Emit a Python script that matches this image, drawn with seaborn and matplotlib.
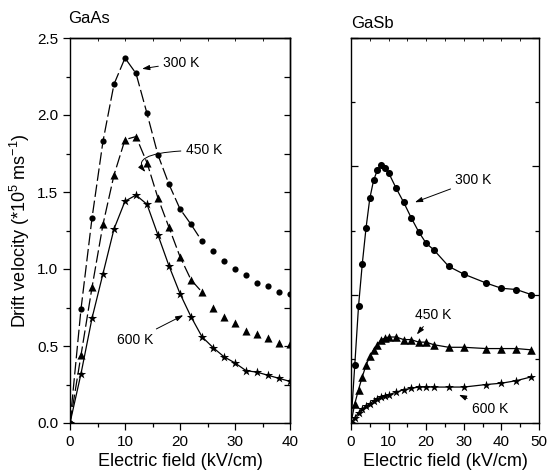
import matplotlib
matplotlib.use("Agg")
import matplotlib.pyplot as plt
from matplotlib.ticker import MultipleLocator, NullFormatter, FormatStrFormatter
import seaborn as sns

# GaAs data (field in kV/cm, velocity in 1e5 m/s)
gaas_field = [0, 2, 4, 6, 8, 10, 12, 14, 16, 18, 20, 22, 24, 26, 28, 30, 32, 34, 36, 38, 40]
gaas_300 = [0, 0.74, 1.33, 1.83, 2.20, 2.37, 2.27, 2.01, 1.74, 1.55, 1.39, 1.29, 1.18, 1.12, 1.05, 1.00, 0.96, 0.91, 0.89, 0.85, 0.84]
gaas_450 = [0, 0.44, 0.88, 1.29, 1.61, 1.84, 1.86, 1.69, 1.46, 1.27, 1.08, 0.93, 0.85, 0.75, 0.69, 0.65, 0.60, 0.58, 0.55, 0.52, 0.51]
gaas_600 = [0, 0.32, 0.68, 0.97, 1.26, 1.44, 1.48, 1.42, 1.22, 1.02, 0.84, 0.69, 0.56, 0.49, 0.43, 0.39, 0.34, 0.33, 0.31, 0.29, 0.27]
gaas_dash_end = 13  # dashed fits stop at 24 kV/cm

# GaSb data (right panel, own unlabeled scale)
gasb_field = [0, 1, 2, 3, 4, 5, 6, 7, 8, 9, 10, 12, 14, 16, 18, 20, 22, 26, 30, 36, 40, 44, 48]
gasb_300 = [0, 0.45, 0.91, 1.24, 1.52, 1.75, 1.89, 1.97, 2.01, 1.99, 1.95, 1.83, 1.72, 1.60, 1.49, 1.40, 1.35, 1.22, 1.16, 1.09, 1.05, 1.04, 1.00]
gasb_450 = [0, 0.15, 0.26, 0.36, 0.45, 0.52, 0.57, 0.61, 0.65, 0.66, 0.67, 0.67, 0.65, 0.65, 0.63, 0.63, 0.61, 0.59, 0.59, 0.58, 0.58, 0.58, 0.57]
gasb_600 = [0, 0.04, 0.08, 0.11, 0.13, 0.15, 0.17, 0.19, 0.20, 0.21, 0.22, 0.24, 0.26, 0.27, 0.28, 0.28, 0.28, 0.28, 0.28, 0.30, 0.31, 0.33, 0.36]

sns.set_style("ticks", rc={'axes.edgecolor': 'black', 'text.color': 'black',
                           'axes.labelcolor': 'black', 'xtick.color': 'black',
                           'ytick.color': 'black'})
plt.rcParams['font.family'] = ['Liberation Sans', 'DejaVu Sans']
plt.rcParams['mathtext.fontset'] = 'custom'
plt.rcParams['mathtext.rm'] = 'Liberation Sans'
plt.rcParams['mathtext.it'] = 'Liberation Sans:italic'
plt.rcParams['axes.linewidth'] = 1.0

fig = plt.figure(figsize=(5.47, 4.75), dpi=100)
ax1 = fig.add_axes([70 / 547, 52 / 475, 220 / 547, 385 / 475])
ax2 = fig.add_axes([351 / 547, 52 / 475, 188 / 547, 385 / 475])

arrow = dict(arrowstyle='-|>,head_length=0.45,head_width=0.15', color='k', lw=0.7,
             shrinkA=1, shrinkB=0)

# ---- GaAs panel ----
sns.lineplot(x=gaas_field[:gaas_dash_end], y=gaas_300[:gaas_dash_end], ax=ax1, color='k',
             lw=0.9, linestyle=(0, (10, 3)))
sns.lineplot(x=gaas_field[:gaas_dash_end], y=gaas_450[:gaas_dash_end], ax=ax1, color='k',
             lw=0.9, linestyle=(0, (10, 3)))
sns.lineplot(x=gaas_field, y=gaas_600, ax=ax1, color='k', lw=0.9)
sns.scatterplot(x=gaas_field, y=gaas_300, ax=ax1, color='k', marker='o', s=20, linewidth=0)
sns.scatterplot(x=gaas_field, y=gaas_450, ax=ax1, color='k', marker='^', s=34, linewidth=0)
sns.scatterplot(x=gaas_field, y=gaas_600, ax=ax1, color='k', marker='*', s=50, linewidth=0)

ax1.set_xlim(0, 40)
ax1.set_ylim(0, 2.5)
ax1.xaxis.set_major_locator(MultipleLocator(10))
ax1.xaxis.set_minor_locator(MultipleLocator(5))
ax1.yaxis.set_major_locator(MultipleLocator(0.5))
ax1.yaxis.set_minor_locator(MultipleLocator(0.25))
ax1.yaxis.set_major_formatter(FormatStrFormatter('%.1f'))
ax1.tick_params(which='major', direction='out', length=5, width=0.9, labelsize=11)
ax1.tick_params(which='minor', direction='out', length=3, width=0.9)
ax1.set_xlabel("Electric field (kV/cm)", fontsize=13, labelpad=3)
ax1.set_ylabel("Drift velocity (*10$^{\\mathrm{5}}$ ms$^{\\mathrm{-1}}$)", fontsize=13, labelpad=4)
ax1.text(-0.01, 1.05, "GaAs", transform=ax1.transAxes, fontsize=12, ha='left', va='center')

sec = ax1.secondary_yaxis('right')
sec.yaxis.set_major_locator(MultipleLocator(0.5))
sec.yaxis.set_minor_locator(MultipleLocator(0.25))
sec.yaxis.set_major_formatter(NullFormatter())
sec.tick_params(which='both', direction='in', length=4, width=0.9)
sec = ax1.secondary_xaxis('top')
sec.xaxis.set_major_locator(MultipleLocator(5))
sec.xaxis.set_major_formatter(NullFormatter())
sec.tick_params(which='both', direction='in', length=2, width=0.6)

ax1.annotate("300 K", xy=(13.1, 2.30), xytext=(16.9, 2.34), fontsize=10,
             ha='left', va='center', arrowprops=arrow)
ax1.annotate("450 K", xy=(13.7, 1.63), xytext=(21.0, 1.77), fontsize=10,
             ha='left', va='center',
             arrowprops=dict(arrow, connectionstyle="angle3,angleA=180,angleB=130"))
ax1.annotate("600 K", xy=(20.6, 0.70), xytext=(8.5, 0.54), fontsize=10,
             ha='left', va='center', arrowprops=arrow)

# ---- GaSb panel ----
sns.lineplot(x=gasb_field, y=gasb_300, ax=ax2, color='k', lw=0.9)
sns.lineplot(x=gasb_field, y=gasb_450, ax=ax2, color='k', lw=0.9)
sns.lineplot(x=gasb_field, y=gasb_600, ax=ax2, color='k', lw=0.9)
sns.scatterplot(x=gasb_field, y=gasb_300, ax=ax2, color='k', marker='o', s=26, linewidth=0)
sns.scatterplot(x=gasb_field, y=gasb_450, ax=ax2, color='k', marker='^', s=38, linewidth=0)
sns.scatterplot(x=gasb_field, y=gasb_600, ax=ax2, color='k', marker='*', s=48, linewidth=0)

ax2.set_xlim(0, 50)
ax2.set_ylim(0, 3.0)
ax2.xaxis.set_major_locator(MultipleLocator(10))
ax2.xaxis.set_minor_locator(MultipleLocator(5))
ax2.yaxis.set_major_locator(MultipleLocator(1.0))
ax2.yaxis.set_minor_locator(MultipleLocator(0.5))
ax2.tick_params(axis='x', which='major', direction='out', length=5, width=0.9, labelsize=11)
ax2.tick_params(axis='x', which='minor', direction='out', length=3, width=0.9)
ax2.tick_params(axis='y', which='both', direction='in', length=3, width=0.9,
                labelleft=False, right=True)
ax2.tick_params(axis='y', which='major', length=5)
ax2.set_xlabel("Electric field (kV/cm)", fontsize=13, labelpad=3)
ax2.set_ylabel("")
ax2.text(0.0, 1.038, "GaSb", transform=ax2.transAxes, fontsize=12, ha='left', va='center')
sec = ax2.secondary_xaxis('top')
sec.xaxis.set_major_locator(MultipleLocator(5))
sec.xaxis.set_major_formatter(NullFormatter())
sec.tick_params(which='both', direction='in', length=2, width=0.6)

ax2.annotate("300 K", xy=(17.0, 1.72), xytext=(27.7, 1.89), fontsize=10,
             ha='left', va='center', arrowprops=arrow)
ax2.annotate("450 K", xy=(17.5, 0.69), xytext=(16.9, 0.84), fontsize=10,
             ha='left', va='center', arrowprops=arrow)
ax2.annotate("600 K", xy=(28.7, 0.22), xytext=(32.1, 0.11), fontsize=10,
             ha='left', va='center', arrowprops=arrow)

fig.savefig("out.png", dpi=100)
